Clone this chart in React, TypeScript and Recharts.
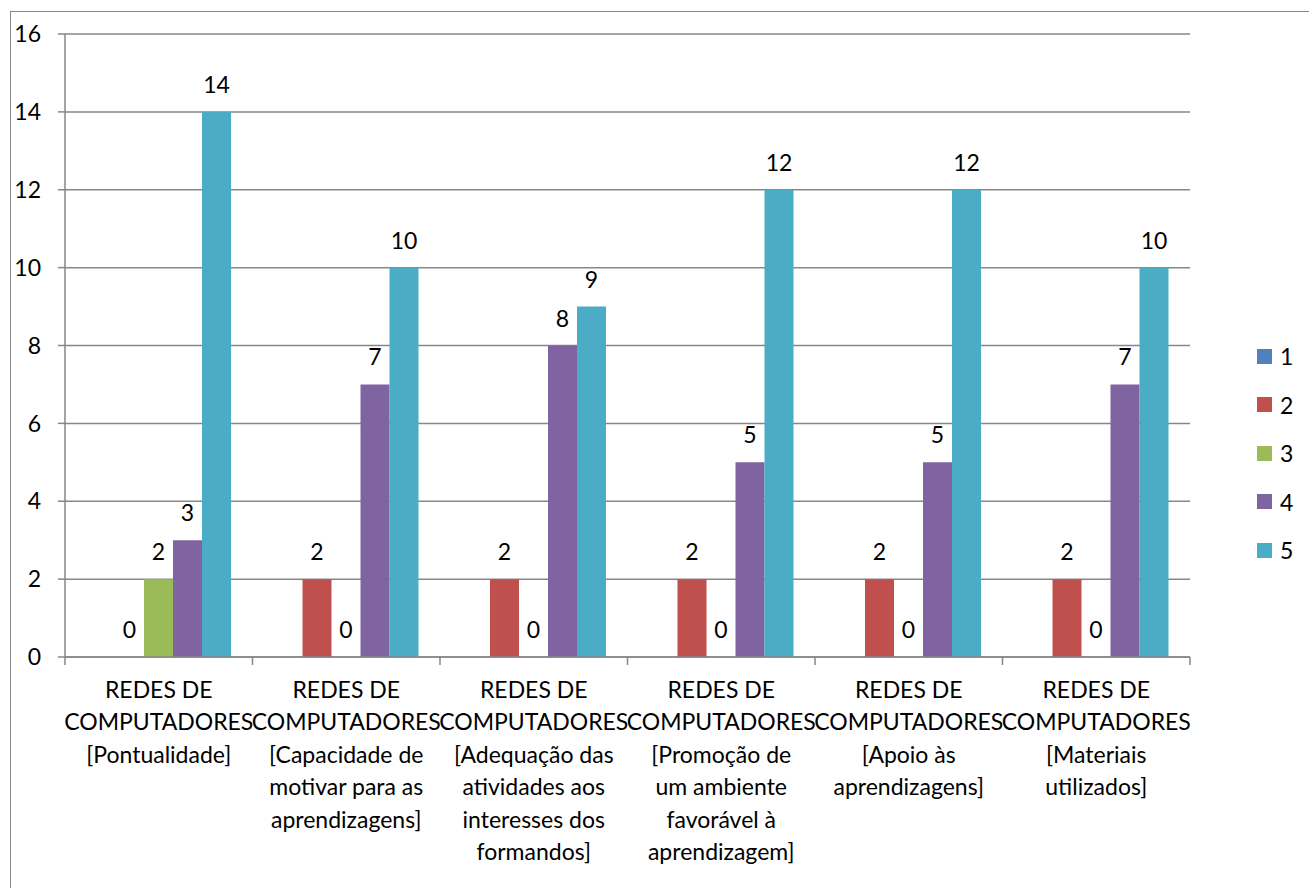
import { BarChart, Bar, XAxis, YAxis, CartesianGrid, LabelList } from 'recharts'

const categories = [
    'REDES DE\nCOMPUTADORES\n[Pontualidade]',
    'REDES DE\nCOMPUTADORES\n[Capacidade de\nmotivar para as\naprendizagens]',
    'REDES DE\nCOMPUTADORES\n[Adequação das\natividades aos\ninteresses dos\nformandos]',
    'REDES DE\nCOMPUTADORES\n[Promoção de\num ambiente\nfavorável à\naprendizagem]',
    'REDES DE\nCOMPUTADORES\n[Apoio às\naprendizagens]',
    'REDES DE\nCOMPUTADORES\n[Materiais\nutilizados]',
]

const series1: (number | null)[] = [null, null, null, null, null, null]
const series2 = [0, 2, 2, 2, 2, 2]
const series3 = [2, 0, 0, 0, 0, 0]
const series4 = [3, 7, 8, 5, 5, 7]
const series5 = [14, 10, 9, 12, 12, 10]

const seriesNames = ['1', '2', '3', '4', '5']
const seriesKeys = ['s1', 's2', 's3', 's4', 's5']
const seriesColors = ['#4F81BD', '#C0504D', '#9BBB59', '#8064A2', '#4BACC6']

const yTicks = [0, 2, 4, 6, 8, 10, 12, 14, 16]

const data = categories.map((label, i) => ({
    label,
    s1: series1[i],
    s2: series2[i],
    s3: series3[i],
    s4: series4[i],
    s5: series5[i],
}))

const GRID = '#878787'
const FONT = 'Lato, "Open Sans", sans-serif'

// category label plus Excel-style tick marks between categories
const CategoryTick = ({ x, y, payload, index, visibleTicksCount, width }: any) => {
    const lines = String(payload.value).split('\n')
    const half = payload.offset || width / visibleTicksCount / 2
    const last = index === visibleTicksCount - 1
    return (
        <g>
            <line x1={x - half} y1={y} x2={x - half} y2={y + 8} stroke={GRID} strokeWidth={1.5} />
            {last && <line x1={x + half} y1={y} x2={x + half} y2={y + 8} stroke={GRID} strokeWidth={1.5} />}
            <text x={x} y={y} textAnchor="middle" fill="#000" fontSize={23}>
                {lines.map((line, i) => (
                    <tspan key={i} x={x} dy={i === 0 ? 41 : 32.4}>
                        {line}
                    </tspan>
                ))}
            </text>
        </g>
    )
}

// value labels, drawn for zeros too (Excel shows "0" on empty bars)
const ValueLabel = ({ x, y, width, value }: any) => {
    if (value === null || value === undefined) return null
    return (
        <text x={x + width / 2} y={y - 19} textAnchor="middle" fill="#000" fontSize={23}>
            {value}
        </text>
    )
}

const App = () => {
    return (
        <div
            style={{
                position: 'absolute',
                left: 0,
                top: 0,
                width: 1309,
                height: 888,
                overflow: 'hidden',
                background: '#fff',
                fontFamily: FONT,
            }}
        >
            <div
                style={{
                    position: 'absolute',
                    left: 10,
                    top: 11,
                    width: 1400,
                    height: 1000,
                    borderTop: `1.5px solid ${GRID}`,
                    borderLeft: `1.5px solid ${GRID}`,
                }}
            />
            <div style={{ position: 'absolute', left: 0, top: 0 }}>
                <BarChart
                    width={1309}
                    height={888}
                    data={data}
                    margin={{ top: 34, right: 119, bottom: 0, left: 8 }}
                    barCategoryGap={21}
                    barGap={0}
                >
                    <CartesianGrid vertical={false} stroke={GRID} strokeWidth={1.5} />
                    <XAxis
                        dataKey="label"
                        height={231}
                        interval={0}
                        axisLine={{ stroke: GRID, strokeWidth: 1.5 }}
                        tickLine={false}
                        tickSize={0}
                        tickMargin={0}
                        tick={<CategoryTick />}
                    />
                    <YAxis
                        width={57}
                        domain={[0, 16]}
                        ticks={yTicks}
                        interval={0}
                        axisLine={{ stroke: GRID, strokeWidth: 1.5 }}
                        tickLine={{ stroke: GRID, strokeWidth: 1.5 }}
                        tickSize={7}
                        tickMargin={17}
                        tick={{ fill: '#000', fontSize: 23 }}
                    />
                    {seriesKeys.map((key, i) => (
                        <Bar
                            key={key}
                            dataKey={key}
                            name={seriesNames[i]}
                            fill={seriesColors[i]}
                            minPointSize={(v: any) => (v === 0 ? 0.01 : 0)}
                            isAnimationActive={false}
                        >
                            <LabelList dataKey={key} content={<ValueLabel />} />
                        </Bar>
                    ))}
                </BarChart>
            </div>
            <div style={{ position: 'absolute', left: 1257, top: 332 }}>
                {seriesNames.map((name, i) => (
                    <div
                        key={name}
                        style={{ display: 'flex', alignItems: 'center', height: 48.5, fontSize: 23, color: '#000' }}
                    >
                        <span
                            style={{ width: 15, height: 15, background: seriesColors[i], marginRight: 8, display: 'inline-block' }}
                        />
                        <span>{name}</span>
                    </div>
                ))}
            </div>
        </div>
    )
}

export default App
